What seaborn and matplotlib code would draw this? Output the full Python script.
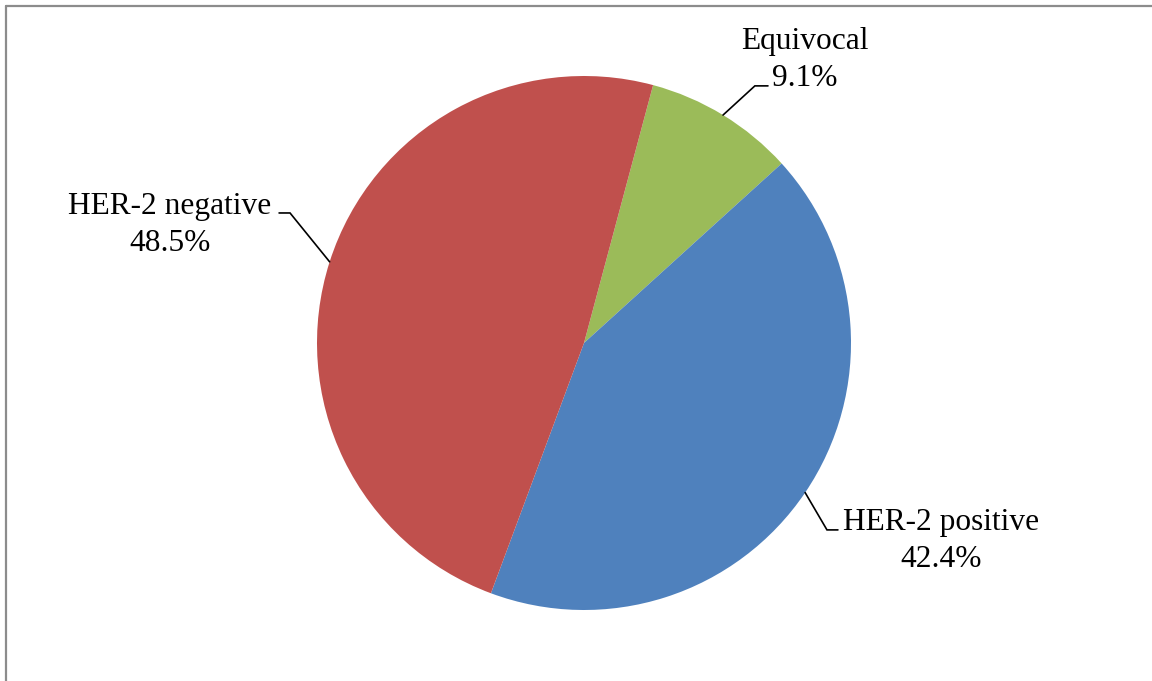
import matplotlib
matplotlib.use("Agg")
import matplotlib.pyplot as plt
from matplotlib.lines import Line2D
import numpy as np
import seaborn as sns

# HER-2 status distribution
categories = ["Equivocal", "HER-2 positive", "HER-2 negative"]
percentages = [9.1, 42.4, 48.5]
palette_hex = ["#9BBB59", "#4F81BD", "#C0504D"]

sns.set_theme(style="white")
plt.rcParams["font.family"] = ["Liberation Serif", "DejaVu Serif"]

colors = sns.color_palette(palette_hex)

W, H = 1152, 681
fig = plt.figure(figsize=(W / 100, H / 100), dpi=100)
ax = fig.add_axes([0, 0, 1, 1])

wedges, _ = ax.pie(
    percentages,
    colors=colors,
    startangle=75,
    counterclock=False,
    radius=1.0,
    wedgeprops=dict(linewidth=0, edgecolor="none"),
)

# map the axes so the pie sits at its place in the frame (radius = 267 px)
R_PX = 267.0
CX, CY = 584.0, 343.0
ax.set_aspect("auto")
ax.set_xlim(-CX / R_PX, (W - CX) / R_PX)
ax.set_ylim((CY - H) / R_PX, CY / R_PX)
ax.axis("off")

# label layout: elbow point, end of leader, text centre (data units)
layout = {
    "Equivocal": dict(elbow=(0.640, 0.963), end=(0.689, 0.963), text=(0.828, 1.060)),
    "HER-2 positive": dict(elbow=(0.910, -0.700), end=(0.951, -0.700), text=(1.337, -0.742)),
    "HER-2 negative": dict(elbow=(-1.101, 0.487), end=(-1.142, 0.487), text=(-1.551, 0.443)),
}

for w, name, pct in zip(wedges, categories, percentages):
    mid = np.deg2rad((w.theta1 + w.theta2) / 2.0)
    edge = (np.cos(mid), np.sin(mid))
    lay = layout[name]
    xs = [edge[0], lay["elbow"][0], lay["end"][0]]
    ys = [edge[1], lay["elbow"][1], lay["end"][1]]
    ax.plot(xs, ys, color="black", linewidth=1.2, solid_joinstyle="miter")
    ax.text(lay["text"][0], lay["text"][1], f"{name}\n{pct:.1f}%",
            ha="center", va="center", fontsize=22.6, color="black",
            linespacing=1.36)

# chart-area border (top and left edges)
border_kw = dict(color="#8c8c8c", linewidth=1.6, transform=fig.transFigure)
fig.add_artist(Line2D([5.5 / W, 1.0], [1 - 5.5 / H, 1 - 5.5 / H], **border_kw))
fig.add_artist(Line2D([5.5 / W, 5.5 / W], [0.0, 1 - 5.5 / H], **border_kw))

fig.savefig("out.png", dpi=100, facecolor="white")
